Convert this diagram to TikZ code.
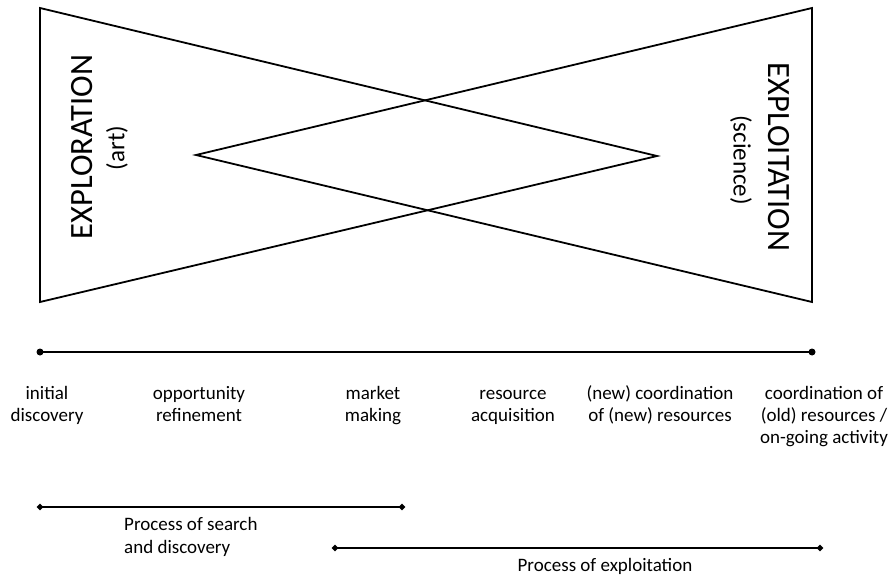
\documentclass[tikz,border=0pt]{standalone}
\usepackage{fontspec}
\setmainfont{Carlito}
\usetikzlibrary{shapes.geometric}
\begin{document}
\begin{tikzpicture}[x=1pt,y=-1pt,
  shape line/.style={line width=1.8pt, line join=miter},
  time line/.style={line width=2pt},
  span line/.style={line width=1.8pt},
  dotend/.style={circle, fill=black, inner sep=0pt, minimum size=7pt},
  diaend/.style={diamond, fill=black, inner sep=0pt, minimum size=7pt},
  title/.style={font=\fontsize{32.5}{36}\selectfont, inner sep=0pt},
  subtitle/.style={font=\fontsize{25}{30}\selectfont, inner sep=0pt},
  stage/.style={font=\fontsize{19}{22}\selectfont, align=center, anchor=north, inner sep=0pt},
  span label/.style={font=\fontsize{19}{23}\selectfont, inner sep=0pt}]
\useasboundingbox (0,0) rectangle (889,575);

% exploration wedge (wide at the left) and exploitation wedge (wide at the right)
\coordinate (lt) at (40,8);
\coordinate (lb) at (40,302);
\coordinate (la) at (657,156);
\coordinate (rt) at (812,8);
\coordinate (rb) at (812,302);
\coordinate (ra) at (196,155);
\draw[shape line] (lt) -- (la) -- (lb) -- cycle;
\draw[shape line] (rt) -- (ra) -- (rb) -- cycle;

\node[title, rotate=90] (explor) at (82,147) {EXPLORATION};
\node[subtitle, rotate=90] (art) at (117,148) {(art)};
\node[title, rotate=-90] (exploit) at (779,157) {EXPLOITATION};
\node[subtitle, rotate=-90] (sci) at (741,160) {(science)};

% timeline of stages
\node[dotend] (t0) at (40,352) {};
\node[dotend] (t1) at (812,352) {};
\draw[time line] (t0.center) -- (t1.center);

\node[stage] (s1) at (47,384) {\strut initial\\discovery};
\node[stage] (s2) at (199,384) {\strut opportunity\\refinement};
\node[stage] (s3) at (373,384) {\strut market\\making};
\node[stage] (s4) at (513,384) {\strut resource\\acquisition};
\node[stage] (s5) at (660,384) {\strut (new) coordination\\of (new) resources};
\node[stage] (s6) at (824,384) {\strut coordination of\\(old) resources /\\on-going activity};

% process spans
\node[diaend] (p0) at (40,507) {};
\node[diaend] (p1) at (402,507) {};
\draw[span line] (p0.center) -- (p1.center);
\node[span label, anchor=base west, align=left] (plab) at (124,553) {Process of search\\and discovery};

\node[diaend] (q0) at (335,548) {};
\node[diaend] (q1) at (820,548) {};
\draw[span line] (q0.center) -- (q1.center);
\node[span label, anchor=base] (qlab) at (605,571) {Process of exploitation};
\end{tikzpicture}
\end{document}
